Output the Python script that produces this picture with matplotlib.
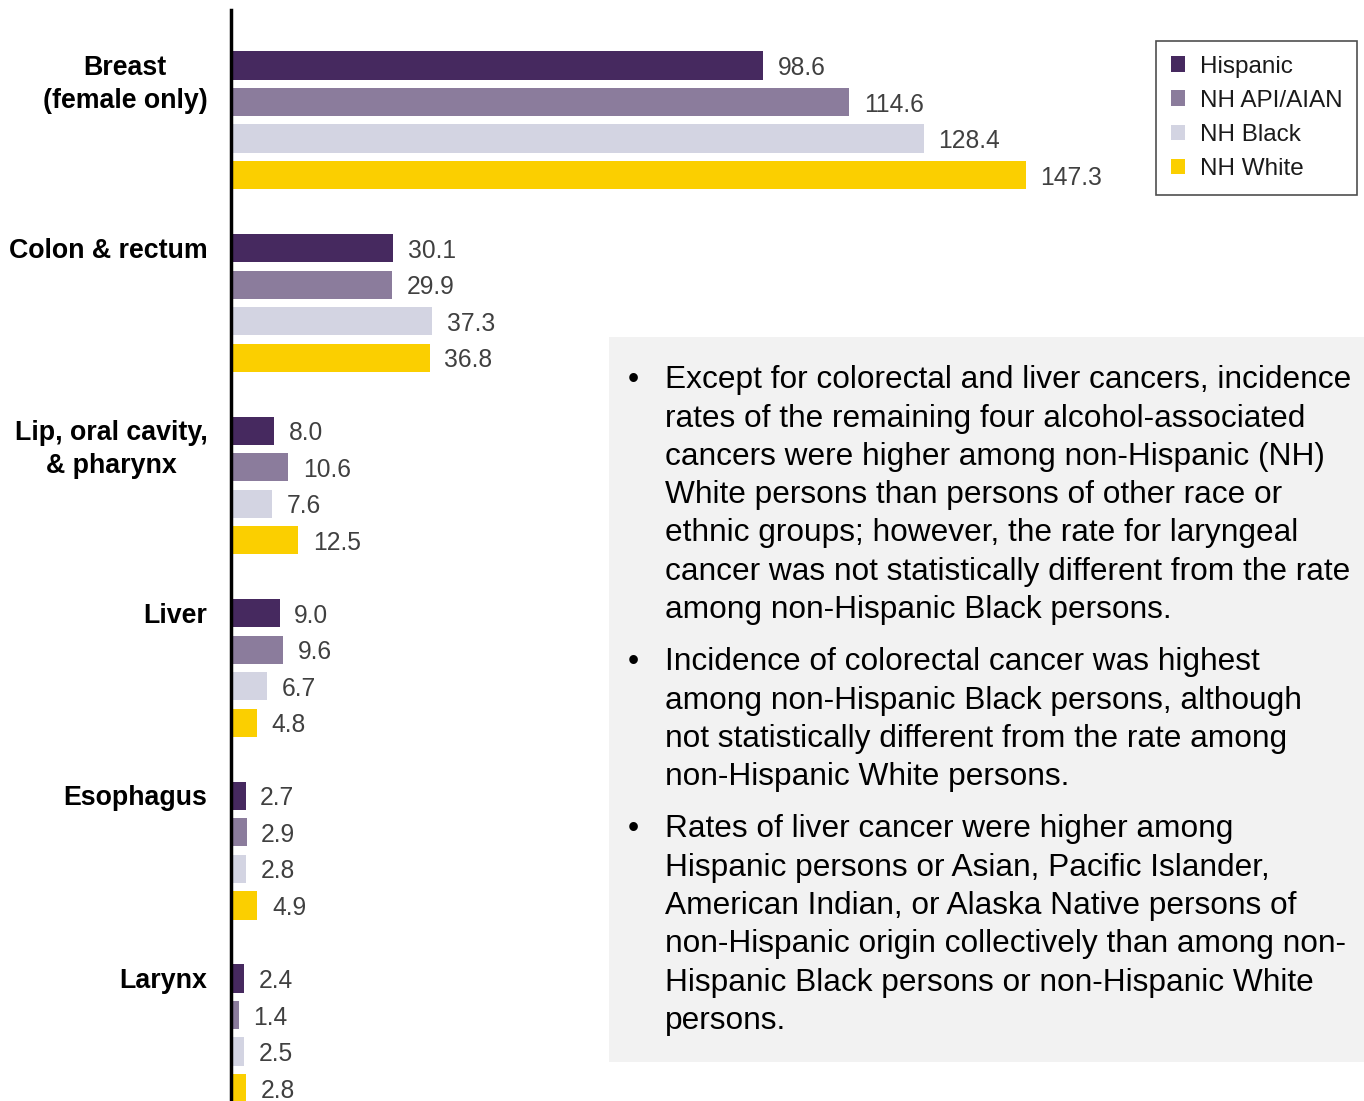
import matplotlib
matplotlib.use('Agg')
import matplotlib.pyplot as plt
from matplotlib.patches import Patch, Rectangle
import numpy as np

plt.rcParams['font.family'] = ['Liberation Sans', 'DejaVu Sans']

categories = ['Breast\n(female only)', 'Colon & rectum', 'Lip, oral cavity,\n& pharynx',
              'Liver', 'Esophagus', 'Larynx']
groups = ['Hispanic', 'NH API/AIAN', 'NH Black', 'NH White']
hispanic = [98.6, 30.1, 8.0, 9.0, 2.7, 2.4]
api_aian = [114.6, 29.9, 10.6, 9.6, 2.9, 1.4]
black = [128.4, 37.3, 7.6, 6.7, 2.8, 2.5]
white = [147.3, 36.8, 12.5, 4.8, 4.9, 2.8]
colors = ['#46295f', '#8b7c9c', '#d3d4e2', '#fbcf00']

bullets = [
    ["Except for colorectal and liver cancers, incidence",
     "rates of the remaining four alcohol-associated",
     "cancers were higher among non-Hispanic (NH)",
     "White persons than persons of other race or",
     "ethnic groups; however, the rate for laryngeal",
     "cancer was not statistically different from the rate",
     "among non-Hispanic Black persons."],
    ["Incidence of colorectal cancer was highest",
     "among non-Hispanic Black persons, although",
     "not statistically different from the rate among",
     "non-Hispanic White persons."],
    ["Rates of liver cancer were higher among",
     "Hispanic persons or Asian, Pacific Islander,",
     "American Indian, or Alaska Native persons of",
     "non-Hispanic origin collectively than among non-",
     "Hispanic Black persons or non-Hispanic White",
     "persons."],
]

W, H = 1364, 1101
fig = plt.figure(figsize=(W / 100, H / 100), dpi=100)
ax = fig.add_axes([231 / W, 0, 1 - 231 / W, 1 - 10 / H])

series = [hispanic, api_aian, black, white]
n = len(categories)
slot = 5
for j, (vals, col, name) in enumerate(zip(series, colors, groups)):
    ys = np.arange(n) * slot + j
    ax.barh(ys, vals, height=0.77, color=col, label=name)
    for y, v in zip(ys, vals):
        ax.annotate(f'{v:.1f}', xy=(v, y), xytext=(10.5, 0), textcoords='offset points',
                    va='center_baseline', ha='left', fontsize=17.7, color='#404040')

for i, cat in enumerate(categories):
    ax.annotate(cat, xy=(0, i * slot), xytext=(-17, 7.6), textcoords='offset points',
                ha='right', va='top', multialignment='center', fontsize=19.3,
                fontweight='bold', color='black', linespacing=1.35)

ax.set_xlim(0, (W - 231) / 5.395)
ax.set_ylim(28.354, -1.52)
for s in ['top', 'right', 'bottom']:
    ax.spines[s].set_visible(False)
ax.spines['left'].set_linewidth(2.5)
ax.spines['left'].set_color('black')
ax.set_xticks([])
ax.set_yticks([])
ax.patch.set_alpha(0)

# legend
handles = [Patch(facecolor=c, edgecolor='none', label=g) for c, g in zip(colors, groups)]
leg = fig.legend(handles=handles, loc='upper right', bbox_to_anchor=(1357 / W, 1 - 41 / H),
                 fontsize=17.5, frameon=True, fancybox=False, handlelength=0.6, handleheight=0.6,
                 handletextpad=0.6, labelspacing=0.5, borderpad=0.6, borderaxespad=0)
leg.get_frame().set_edgecolor('#222222')
leg.get_frame().set_linewidth(1.2)
for t in leg.get_texts():
    t.set_color('#1a1a1a')

# text box
fig.patches.append(Rectangle((609 / W, 1 - 1062 / H), (W - 609) / W, (1062 - 337) / H,
                             transform=fig.transFigure, facecolor='#f2f2f2', edgecolor='none',
                             zorder=0))
first_lines = [377, 659, 826]
step = 38.3
fs = 22.8
for lines, yc in zip(bullets, first_lines):
    yb0 = yc + 11.3
    fig.text(633 / W, 1 - yb0 / H, '•', ha='center', va='baseline', fontsize=fs, color='black')
    for k, line in enumerate(lines):
        fig.text(665 / W, 1 - (yb0 + k * step) / H, line, ha='left', va='baseline',
                 fontsize=fs, color='black')

fig.savefig('out.png', dpi=100)
